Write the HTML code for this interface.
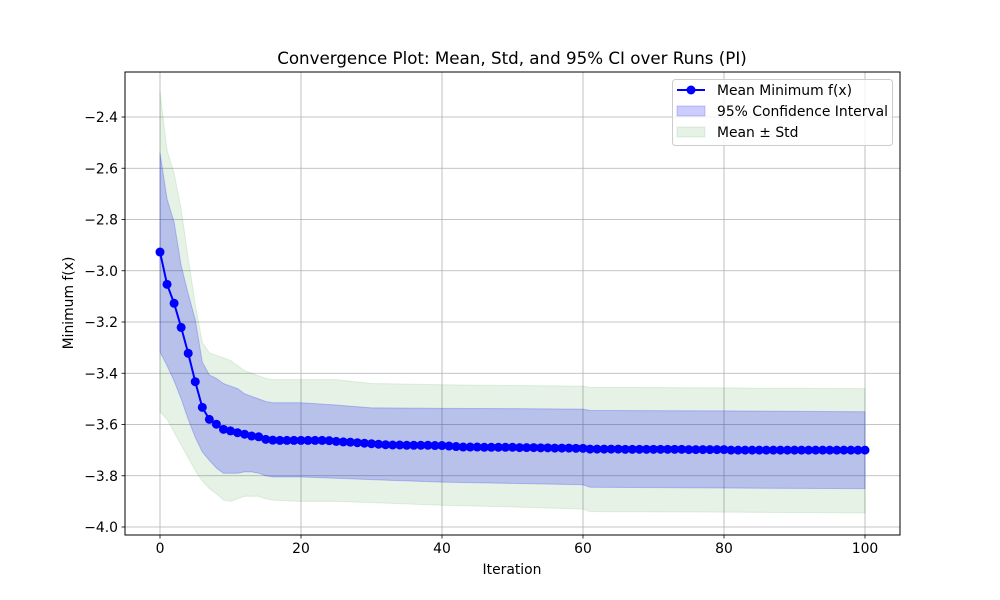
<!DOCTYPE html>
<html><head><meta charset="utf-8"><style>
body{margin:0;background:#fff;}
svg{display:block;font-family:"DejaVu Sans","Liberation Sans",sans-serif;}
</style></head><body>
<svg id="chart" width="1000" height="600" viewBox="0 0 1000 600" xmlns="http://www.w3.org/2000/svg">
<rect width="1000" height="600" fill="#fff"/>
<g id="grid"></g>
<g id="bands"></g>
<g id="series"></g>
<rect x="125" y="72" width="775" height="463" fill="none" stroke="#000" stroke-width="1"/>
<g id="ticks"></g>
<text x="512" y="64" text-anchor="middle" font-size="16.7">Convergence Plot: Mean, Std, and 95% CI over Runs (PI)</text>
<text x="512" y="574" text-anchor="middle" font-size="13.9">Iteration</text>
<text transform="translate(73,303) rotate(-90)" text-anchor="middle" font-size="13.9">Minimum f(x)</text>
<g>
<rect x="672.5" y="79.5" width="220" height="66" rx="3" fill="#fff" fill-opacity="0.8" stroke="#ccc"/>
<g>
<line x1="677" y1="90" x2="705" y2="90" stroke="#0000ff" stroke-width="2"/>
<circle cx="691" cy="90" r="4.5" fill="#0000ff"/>
<text x="717" y="95" font-size="13.9">Mean Minimum f(x)</text></g>
<g>
<rect x="677" y="106" width="28" height="10" fill="#0000ff" fill-opacity="0.2" stroke="#0000ff" stroke-opacity="0.2"/>
<text x="717" y="116" font-size="13.9">95% Confidence Interval</text></g>
<g>
<rect x="677" y="127" width="28" height="10" fill="#008000" fill-opacity="0.1" stroke="#008000" stroke-opacity="0.1"/>
<text x="717" y="137" font-size="13.9">Mean ± Std</text></g>
</g>
</svg>
<script>
const meanValues = [-2.927,-3.053,-3.127,-3.221,-3.322,-3.433,-3.533,-3.580,-3.599,-3.619,
-3.625,-3.632,-3.638,-3.645,-3.648,-3.658,-3.661,-3.662,-3.662,-3.662,
-3.662,-3.662,-3.662,-3.662,-3.663,-3.666,-3.668,-3.669,-3.671,-3.673,
-3.675,-3.677,-3.679,-3.680,-3.680,-3.681,-3.681,-3.681,-3.681,-3.682,
-3.682,-3.684,-3.686,-3.688,-3.688,-3.688,-3.689,-3.689,-3.689,-3.689,
-3.689,-3.690,-3.690,-3.690,-3.691,-3.691,-3.692,-3.692,-3.692,-3.693,
-3.693,-3.696,-3.696,-3.696,-3.696,-3.696,-3.697,-3.697,-3.697,-3.697,
-3.697,-3.697,-3.697,-3.697,-3.697,-3.698,-3.698,-3.698,-3.698,-3.698,
-3.698,-3.700,-3.700,-3.700,-3.700,-3.700,-3.700,-3.700,-3.700,-3.700,
-3.700,-3.700,-3.700,-3.700,-3.700,-3.700,-3.700,-3.700,-3.700,-3.700,-3.700];
const bandIters = [0,1,2,3,4,5,6,7,8,9,10,11,12,13,14,15,16,20,25,30,40,50,60,61,80,100];
const ciUpper = [-2.54,-2.72,-2.81,-2.98,-3.09,-3.19,-3.356,-3.407,-3.42,-3.44,-3.45,-3.46,-3.48,-3.49,-3.50,-3.51,-3.515,-3.515,-3.524,-3.535,-3.537,-3.538,-3.54,-3.545,-3.547,-3.55];
const ciLower = [-3.317,-3.37,-3.43,-3.50,-3.58,-3.65,-3.707,-3.74,-3.77,-3.79,-3.79,-3.79,-3.785,-3.785,-3.79,-3.80,-3.805,-3.805,-3.81,-3.815,-3.825,-3.83,-3.835,-3.845,-3.848,-3.85];
const stdUpper = [-2.30,-2.53,-2.62,-2.76,-2.95,-3.13,-3.28,-3.32,-3.33,-3.34,-3.35,-3.37,-3.39,-3.40,-3.41,-3.42,-3.425,-3.425,-3.425,-3.44,-3.445,-3.448,-3.45,-3.455,-3.457,-3.46];
const stdLower = [-3.55,-3.58,-3.63,-3.68,-3.73,-3.78,-3.82,-3.85,-3.87,-3.895,-3.90,-3.89,-3.88,-3.88,-3.88,-3.89,-3.895,-3.90,-3.90,-3.905,-3.915,-3.922,-3.93,-3.94,-3.942,-3.945];
const xTicks = [0,20,40,60,80,100];
const yTicks = [-4.0,-3.8,-3.6,-3.4,-3.2,-3.0,-2.8,-2.6,-2.4];

const NS="http://www.w3.org/2000/svg";
function X(v){return 160+(v-0)*7.05;}
function Y(v){return 117+(-2.4-v)*256.25;}
function mk(tag,attrs,parent){const e=document.createElementNS(NS,tag);for(const k in attrs)e.setAttribute(k,attrs[k]);parent.appendChild(e);return e;}
const grid=document.getElementById('grid'),ticks=document.getElementById('ticks'),bands=document.getElementById('bands'),series=document.getElementById('series');
xTicks.forEach(t=>{
  const g=mk('line',{x1:X(t),x2:X(t),y1:72,y2:535,stroke:'#b0b0b0','stroke-width':0.8},grid);
  
  
  mk('line',{x1:X(t),x2:X(t),y1:535,y2:538.5,stroke:'#000','stroke-width':0.8},ticks);
  const l=mk('text',{x:X(t),y:553,'text-anchor':'middle','font-size':13.9},ticks);
  l.textContent=t;
  
  
});
yTicks.forEach(t=>{
  const g=mk('line',{x1:125,x2:900,y1:Y(t),y2:Y(t),stroke:'#b0b0b0','stroke-width':0.8},grid);
  
  
  mk('line',{x1:121.5,x2:125,y1:Y(t),y2:Y(t),stroke:'#000','stroke-width':0.8},ticks);
  const l=mk('text',{x:118,y:Y(t)+5,'text-anchor':'end','font-size':13.9},ticks);
  l.textContent='\u2212'+Math.abs(t).toFixed(1);
  
  
});
function band(up,lo,color,op,name){
  let pts=bandIters.map((it,i)=>X(it)+','+Y(up[i]));
  for(let i=bandIters.length-1;i>=0;i--)pts.push(X(bandIters[i])+','+Y(lo[i]));
  const p=mk('polygon',{points:pts.join(' '),fill:color,'fill-opacity':op,stroke:color,'stroke-opacity':op},bands);
  
  
}
band(stdUpper,stdLower,'#008000',0.1,'std-band');
band(ciUpper,ciLower,'#0000ff',0.2,'ci-band');
const line=mk('polyline',{points:meanValues.map((v,i)=>X(i)+','+Y(v)).join(' '),fill:'none',stroke:'#0000ff','stroke-width':2},series);


meanValues.forEach((v,i)=>{
  const c=mk('circle',{cx:X(i),cy:Y(v),r:4.5,fill:'#0000ff'},series);
  
  
});
</script>
</body></html>
